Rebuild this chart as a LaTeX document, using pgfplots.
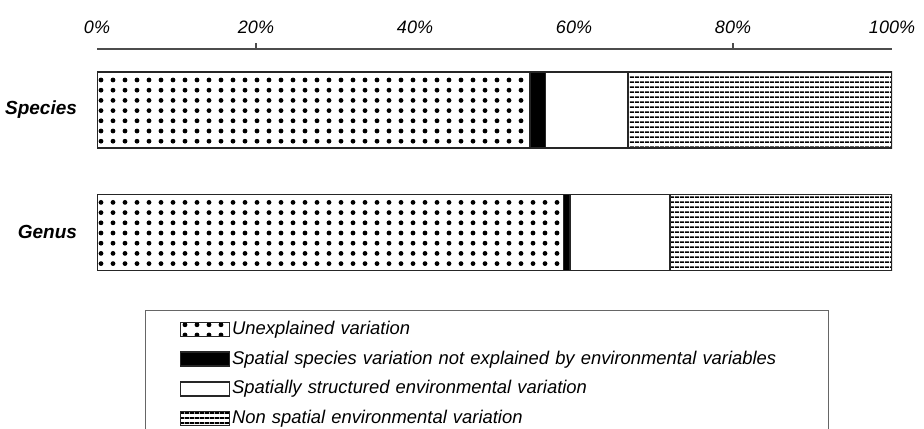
\documentclass[border=0pt]{standalone}
\usepackage{pgfplots}
\pgfplotsset{compat=1.18}
\usetikzlibrary{patterns.meta}
\usepackage{fontspec}
\setmainfont{Liberation Sans}

% dot grid and horizontal hatching as in the original
\tikzdeclarepattern{
  name=bigdots, type=uncolored,
  bottom left={(-0.5pt,-1.95pt)}, top right={(5.5pt,3.15pt)},
  tile size={(6pt,5.1pt)},
  code={\fill (2.5pt,0.6pt) circle (1.2pt);}
}
\tikzdeclarepattern{
  name=hlines, type=uncolored,
  bottom left={(0pt,0pt)}, top right={(2.5pt,2.5pt)},
  tile size={(2.5pt,2.5pt)},
  code={\fill (0pt,0pt) rectangle (2.5pt,1pt);}
}

\pgfplotsset{
  sw/.style={legend image code/.code={\draw[##1] (0pt,-3.5pt) rectangle (24.5pt,3.5pt);}},
}

\begin{document}
\begin{tikzpicture}
\useasboundingbox (0pt,0pt) rectangle (462pt,-214pt);
\begin{axis}[
    at={(48.5pt,-24.5pt)}, anchor=north west,
    scale only axis,
    width=397.5pt, height=120.5pt,
    xbar stacked,
    bar width=38pt,
    xmin=0, xmax=100,
    ymin=-0.47, ymax=1.498,
    axis x line*=top,
    axis y line*=left,
    x axis line style={draw=black!70, line width=0.6pt},
    y axis line style={draw=none},
    xtick={0,20,40,60,80,100},
    xticklabels={0\%,20\%,40\%,60\%,80\%,100\%},
    major x tick style={draw=none},
    extra x ticks={20,80},
    extra x tick labels={},
    extra x tick style={major x tick style={draw=black!70, line width=0.6pt}},
    tick align=outside,
    major tick length=3pt,
    xticklabel style={font=\itshape\fontsize{9}{11}\selectfont, yshift=1pt},
    ytick={0,1},
    yticklabels={Genus,Species},
    ytick style={draw=none},
    yticklabel style={font=\bfseries\itshape\fontsize{9.5}{11}\selectfont, xshift=-3.5pt},
    legend cell align=left,
    legend style={
      at={(0.0604,-0.083)}, anchor=north west,
      draw=black!60, line width=0.5pt,
      inner xsep=17pt, inner ysep=4pt,
      column sep=0pt, row sep=3.85pt,
      font=\itshape\fontsize{9.2}{11}\selectfont,
      nodes={text width=280pt, align=left, text height=7pt, text depth=2pt, inner sep=1pt},
    },
    every axis plot/.append style={draw=black!85, line width=0.8pt},
]
\addplot[sw, pattern=bigdots] coordinates {(58.7,0) (54.5,1)};
\addplot[sw, fill=black] coordinates {(0.8,0) (1.9,1)};
\addplot[sw, fill=white] coordinates {(12.6,0) (10.4,1)};
\addplot[sw, pattern=hlines] coordinates {(27.9,0) (33.2,1)};
\legend{Unexplained variation,
  Spatial species variation not explained by environmental variables,
  Spatially structured environmental variation,
  Non spatial environmental variation}
\addlegendimage{empty legend}
\addlegendentry{}
\end{axis}
\end{tikzpicture}
\end{document}
